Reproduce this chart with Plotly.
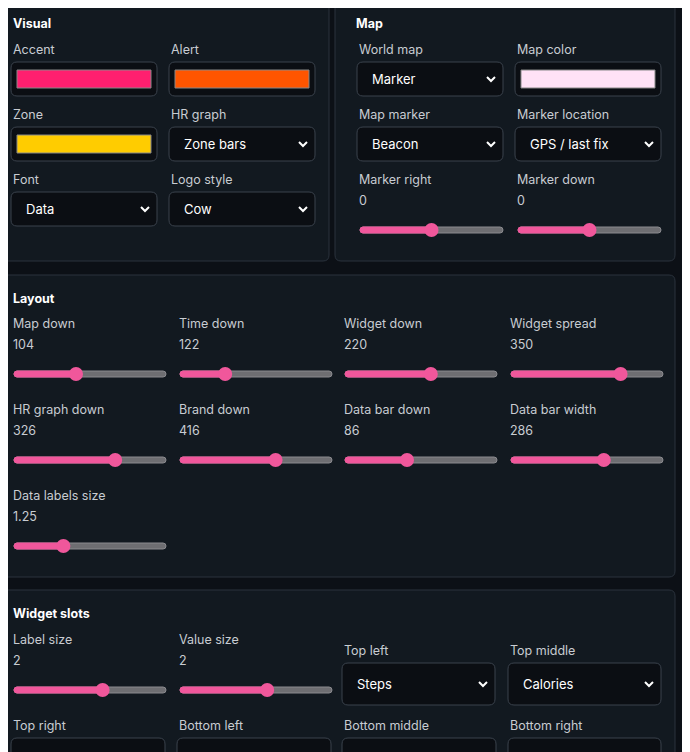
import plotly.graph_objects as go

W, H = 690, 752
OFF = 8  # page body margin
BG = "#0c1016"; PANEL = "#121920"; BORDER = "#2a323c"
LABEL = "#c8ccd2"; WHITE = "#ffffff"; PINK = "#f0579b"; TRACK = "#6e6e72"
SEL_BG = "#0b0e13"; SEL_BORDER = "#3a424c"

panels = [("Visual", 0, 0, 329, 261), ("Map", 343, 0, 675, 261),
          ("Layout", 0, 275, 675, 577), ("Widget slots", 0, 590, 675, 770)]

swatch_labels = ["Accent", "Alert", "Zone", "Map color"]
swatch_colors = ["#ff1f6f", "#ff5500", "#ffcc00", "#ffe2f6"]
swatch_x = [11, 169, 11, 515]
swatch_y = [62, 62, 127, 62]
swatch_w = [146, 146, 146, 146]

select_labels = ["HR graph", "Font", "Logo style", "World map", "Map marker", "Marker location",
                 "Top left", "Top middle", "Top right", "Bottom left", "Bottom middle", "Bottom right"]
select_values = ["Zone bars", "Data", "Cow", "Marker", "Beacon", "GPS / last fix",
                 "Steps", "Calories", "", "", "", ""]
select_x = [169, 11, 169, 357, 357, 515, 342, 508, 11, 177, 342, 508]
select_y = [127, 192, 192, 62, 127, 127, 663, 663, 738, 738, 738, 738]
select_w = [146, 146, 146, 146, 146, 146, 153, 153, 154, 154, 154, 153]

slider_labels = ["Marker right", "Marker down", "Map down", "Time down", "Widget down", "Widget spread",
                 "HR graph down", "Brand down", "Data bar down", "Data bar width", "Data labels size",
                 "Label size", "Value size"]
slider_values = ["0", "0", "104", "122", "220", "350", "326", "416", "86", "286", "1.25", "2", "2"]
slider_fraction = [0.5, 0.5, 0.40, 0.28, 0.57, 0.74, 0.68, 0.64, 0.40, 0.62, 0.31, 0.59, 0.58]
slider_x = [357, 515, 11, 177, 342, 508, 11, 177, 342, 508, 11, 11, 177]
slider_y = [179, 179, 323, 323, 323, 323, 409, 409, 409, 409, 495, 639, 639]

shapes, ann = [], []

def rrect(x0, y0, x1, y1, fill, line, r=6):
    path = (f"M{x0+r},{y0} L{x1-r},{y0} Q{x1},{y0} {x1},{y0+r} L{x1},{y1-r} Q{x1},{y1} {x1-r},{y1} "
            f"L{x0+r},{y1} Q{x0},{y1} {x0},{y1-r} L{x0},{y0+r} Q{x0},{y0} {x0+r},{y0} Z")
    shapes.append(dict(type="path", path=path, fillcolor=fill, line=dict(color=line, width=1), layer="below"))

def text(x, y, s, color=LABEL, size=12.5, bold=False):
    ann.append(dict(x=x, y=y, text=f"<b>{s}</b>" if bold else s, showarrow=False, xanchor="left",
                    yanchor="middle", font=dict(color=color, size=size, family="Inter, Roboto, sans-serif")))

for t, x0, y0, x1, y1 in panels:
    rrect(x0 - 8, y0, x1, y1, PANEL, BORDER)
    text(x0 + 11, y0 + 23, t, WHITE, 12.5, True)

for l, c, x, y, w in zip(swatch_labels, swatch_colors, swatch_x, swatch_y, swatch_w):
    text(x, y - 13, l)
    rrect(x, y, x + w, y + 34, SEL_BG, SEL_BORDER)
    shapes.append(dict(type="rect", x0=x + 6, x1=x + w - 6, y0=y + 8, y1=y + 26, fillcolor=c,
                       line=dict(color="#888", width=1)))

for l, v, x, y, w in zip(select_labels, select_values, select_x, select_y, select_w):
    text(x, y - 13, l)
    h = 42 if y > 600 else 34
    rrect(x, y, x + w, y + h, SEL_BG, SEL_BORDER)
    if v:
        text(x + 13, y + h / 2, v, WHITE, 13)
        cx, cy = x + w - 12, y + h / 2
        shapes.append(dict(type="path", path=f"M{cx-4},{cy-2} L{cx},{cy+2} L{cx+4},{cy-2}",
                           line=dict(color=WHITE, width=2)))

tx, ty = [], []
for l, v, f, x, y in zip(slider_labels, slider_values, slider_fraction, slider_x, slider_y):
    text(x, y, l)
    text(x, y + 21, v)
    t0 = x + 3
    t1 = x + 146 if x in (357, 515) and y == 179 else x + 155
    ymid = y + 51
    xt = t0 + 6 + f * (t1 - t0 - 12)
    rrect(t0, ymid - 3, t1, ymid + 3, TRACK, "#8a8a8e", r=3)
    rrect(t0, ymid - 3, xt, ymid + 3, PINK, PINK, r=3)
    tx.append(xt); ty.append(ymid)

fig = go.Figure(go.Scatter(x=tx, y=ty, mode="markers", hoverinfo="skip",
                           marker=dict(size=14, color=PINK, line=dict(width=0))))
fig.update_layout(width=W, height=H, margin=dict(l=0, r=0, t=0, b=0), paper_bgcolor=BG, plot_bgcolor=BG,
                  shapes=shapes, annotations=ann, showlegend=False,
                  xaxis=dict(range=[OFF, W + OFF], visible=False, fixedrange=True),
                  yaxis=dict(range=[H + OFF, OFF], visible=False, fixedrange=True))
fig.write_html("out.html", config={"displayModeBar": False})
